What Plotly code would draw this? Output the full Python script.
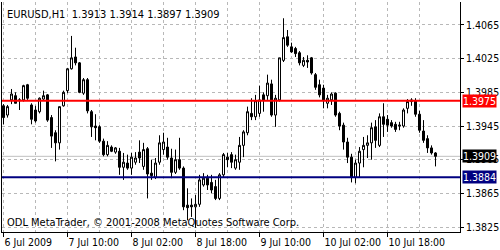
import pandas as pd
import plotly.graph_objects as go

# ---------------- data ----------------
symbol = "EURUSD,H1"
first_bar = "2009-07-06 18:00"

open_ = [1.3969, 1.3958, 1.3976, 1.3981, 1.3975, 1.3976, 1.3994, 1.3970, 1.3964, 1.3962,
         1.3977, 1.3982, 1.3955, 1.3937, 1.3925, 1.3969, 1.3987, 1.4013, 1.4027, 1.4020,
         1.3984, 1.4000, 1.3962, 1.3945, 1.3944, 1.3927, 1.3911, 1.3920, 1.3914, 1.3915,
         1.3896, 1.3901, 1.3895, 1.3902, 1.3914, 1.3897, 1.3918, 1.3889, 1.3884, 1.3902,
         1.3917, 1.3920, 1.3907, 1.3890, 1.3905, 1.3895, 1.3851, 1.3851, 1.3849, 1.3852,
         1.3875, 1.3883, 1.3878, 1.3873, 1.3859, 1.3887, 1.3908, 1.3911, 1.3895, 1.3902,
         1.3922, 1.3937, 1.3960, 1.3956, 1.3960, 1.3982, 1.3981, 1.3995, 1.3958, 1.3976,
         1.4023, 1.4051, 1.4039, 1.4037, 1.4032, 1.4017, 1.4023, 1.4026, 1.4006, 1.3994,
         1.3990, 1.3972, 1.3976, 1.3984, 1.3960, 1.3946, 1.3926, 1.3908, 1.3884, 1.3901,
         1.3917, 1.3922, 1.3925, 1.3944, 1.3922, 1.3956, 1.3953, 1.3949, 1.3947, 1.3945,
         1.3945, 1.3966, 1.3974, 1.3975, 1.3959, 1.3939, 1.3930, 1.3919, 1.3913]
high = [1.3971, 1.3970, 1.3989, 1.3985, 1.3978, 1.3994, 1.3995, 1.3972, 1.3969, 1.3979,
        1.3987, 1.3983, 1.3958, 1.3940, 1.3968, 1.3987, 1.4014, 1.4052, 1.4038, 1.4021,
        1.4002, 1.4002, 1.3964, 1.3959, 1.3946, 1.3930, 1.3927, 1.3922, 1.3920, 1.3919,
        1.3913, 1.3911, 1.3913, 1.3914, 1.3928, 1.3925, 1.3920, 1.3905, 1.3907, 1.3934,
        1.3937, 1.3931, 1.3918, 1.3917, 1.3931, 1.3897, 1.3871, 1.3859, 1.3863, 1.3887,
        1.3889, 1.3887, 1.3887, 1.3881, 1.3889, 1.3913, 1.3913, 1.3914, 1.3911, 1.3932,
        1.3940, 1.3968, 1.3978, 1.3982, 1.3993, 1.3985, 1.4006, 1.4000, 1.3982, 1.4026,
        1.4073, 1.4059, 1.4044, 1.4039, 1.4034, 1.4027, 1.4029, 1.4027, 1.4008, 1.4000,
        1.3994, 1.3982, 1.3985, 1.3985, 1.3962, 1.3949, 1.3931, 1.3912, 1.3905, 1.3920,
        1.3932, 1.3934, 1.3949, 1.3952, 1.3960, 1.3972, 1.3958, 1.3952, 1.3950, 1.3950,
        1.3966, 1.3977, 1.3978, 1.3978, 1.3963, 1.3952, 1.3934, 1.3922, 1.3914]
low = [1.3947, 1.3955, 1.3971, 1.3972, 1.3964, 1.3974, 1.3976, 1.3947, 1.3949, 1.3960,
       1.3976, 1.3950, 1.3919, 1.3903, 1.3917, 1.3968, 1.3984, 1.4012, 1.4017, 1.3984,
       1.3982, 1.3960, 1.3932, 1.3928, 1.3925, 1.3909, 1.3909, 1.3914, 1.3912, 1.3887,
       1.3881, 1.3893, 1.3887, 1.3899, 1.3901, 1.3893, 1.3859, 1.3881, 1.3882, 1.3899,
       1.3911, 1.3905, 1.3883, 1.3888, 1.3893, 1.3845, 1.3833, 1.3837, 1.3824, 1.3849,
       1.3873, 1.3869, 1.3865, 1.3857, 1.3857, 1.3884, 1.3896, 1.3895, 1.3893, 1.3893,
       1.3908, 1.3934, 1.3952, 1.3952, 1.3956, 1.3962, 1.3976, 1.3956, 1.3944, 1.3974,
       1.4021, 1.4039, 1.4032, 1.4027, 1.4017, 1.4015, 1.4014, 1.4006, 1.3988, 1.3979,
       1.3966, 1.3966, 1.3970, 1.3956, 1.3940, 1.3917, 1.3901, 1.3878, 1.3877, 1.3884,
       1.3896, 1.3907, 1.3905, 1.3919, 1.3920, 1.3932, 1.3938, 1.3943, 1.3938, 1.3940,
       1.3943, 1.3960, 1.3969, 1.3956, 1.3937, 1.3925, 1.3913, 1.3911, 1.3897]
close = [1.3955, 1.3968, 1.3983, 1.3972, 1.3976, 1.3993, 1.3978, 1.3953, 1.3951, 1.3978,
         1.3981, 1.3952, 1.3933, 1.3925, 1.3968, 1.3985, 1.4013, 1.4026, 1.4020, 1.3985,
         1.4000, 1.3963, 1.3944, 1.3943, 1.3927, 1.3911, 1.3922, 1.3915, 1.3919, 1.3896,
         1.3902, 1.3895, 1.3908, 1.3907, 1.3907, 1.3917, 1.3888, 1.3886, 1.3901, 1.3925,
         1.3926, 1.3908, 1.3890, 1.3905, 1.3895, 1.3849, 1.3848, 1.3849, 1.3852, 1.3881,
         1.3883, 1.3875, 1.3869, 1.3859, 1.3887, 1.3911, 1.3905, 1.3902, 1.3905, 1.3922,
         1.3938, 1.3962, 1.3956, 1.3975, 1.3976, 1.3976, 1.3996, 1.3958, 1.3978, 1.4026,
         1.4050, 1.4041, 1.4033, 1.4031, 1.4020, 1.4023, 1.4021, 1.4008, 1.3991, 1.3982,
         1.3976, 1.3978, 1.3983, 1.3958, 1.3945, 1.3926, 1.3908, 1.3884, 1.3901, 1.3915,
         1.3922, 1.3925, 1.3943, 1.3928, 1.3956, 1.3947, 1.3946, 1.3945, 1.3941, 1.3946,
         1.3964, 1.3974, 1.3976, 1.3959, 1.3940, 1.3928, 1.3919, 1.3913, 1.3909]

label_times = ["2009-07-06 18:00", "2009-07-07 10:00", "2009-07-08 02:00", "2009-07-08 18:00",
               "2009-07-09 10:00", "2009-07-10 02:00", "2009-07-10 18:00"]
tick_labels = ["6 Jul 2009", "7 Jul 10:00", "8 Jul 02:00", "8 Jul 18:00",
               "9 Jul 10:00", "10 Jul 02:00", "10 Jul 18:00"]
grid_times = ["2009-07-07 02:00", "2009-07-07 18:00", "2009-07-08 10:00", "2009-07-09 02:00",
              "2009-07-09 18:00", "2009-07-10 10:00", "2009-07-11 02:00"]
price_ticks = [1.4065, 1.4025, 1.3985, 1.3945, 1.3905, 1.3865, 1.3825]
resistance = 1.3975
support = 1.3884
copyright_text = "ODL MetaTrader, \u00a9 2001-2008 MetaQuotes Software Corp."

# ---------------- figure ----------------
FONT = "Liberation Sans Narrow, DejaVu Sans Condensed, Arial Narrow, sans-serif"
times = pd.date_range(first_bar, periods=len(close), freq="h")
bid = close[-1]

W, H = 500, 250
ML, MR, MT, MB = 2, 40, 2, 18
px_per_bar = 4
plot_w = W - ML - MR
x_start = times[0] - pd.Timedelta(hours=0.375)
x_end = x_start + pd.Timedelta(hours=plot_w / px_per_bar)

fig = go.Figure()
fig.add_trace(go.Candlestick(
    x=times, open=open_, high=high, low=low, close=close,
    increasing=dict(line=dict(color="black", width=1), fillcolor="white"),
    decreasing=dict(line=dict(color="black", width=1), fillcolor="black"),
    whiskerwidth=0, hoverinfo="skip", showlegend=False,
))

grid_col = "#b8b8b8"
fig.update_xaxes(
    type="date", range=[x_start, x_end], rangeslider_visible=False,
    tickmode="array", tickvals=pd.to_datetime(label_times), ticktext=tick_labels,
    ticklabelposition="outside right", tickangle=0, automargin=False,
    ticks="outside", ticklen=4, tickcolor="black", tickwidth=1,
    showgrid=True, gridcolor=grid_col, griddash="3px,3px", gridwidth=1,
    minor=dict(tickmode="array", tickvals=pd.to_datetime(grid_times), showgrid=True,
               gridcolor=grid_col, griddash="3px,3px", ticks=""),
    showline=True, linecolor="black", linewidth=1,
    tickfont=dict(family=FONT, size=10.5, color="black"),
    zeroline=False, fixedrange=True,
)
fig.update_yaxes(
    side="right", range=[1.38191, 1.40923], automargin=False,
    tickmode="array", tickvals=price_ticks, ticktext=[f"{v:.4f}" for v in price_ticks],
    ticks="outside", ticklen=3, tickcolor="black",
    showgrid=True, gridcolor=grid_col, griddash="3px,3px", gridwidth=1,
    showline=True, mirror=True, linecolor="black", linewidth=1,
    tickfont=dict(family=FONT, size=10.5, color="black"),
    zeroline=False, fixedrange=True,
)

# horizontal levels
fig.add_shape(type="line", xref="paper", x0=0, x1=1, yref="y", y0=bid, y1=bid,
              line=dict(color="#c0c0c0", width=1), layer="below")
fig.add_shape(type="line", xref="paper", x0=0, x1=1, yref="y", y0=resistance, y1=resistance,
              line=dict(color="#ff0000", width=2), layer="above")
fig.add_shape(type="line", xref="paper", x0=0, x1=1, yref="y", y0=support, y1=support,
              line=dict(color="#000080", width=2), layer="above")

# price boxes on the right scale
for lvl, col in [(resistance, "#ff0000"), (bid, "black"), (support, "#000080")]:
    fig.add_annotation(xref="paper", x=1, xanchor="left", xshift=2, yref="y", y=lvl,
                       yanchor="middle", text=f"{lvl:.4f}", showarrow=False,
                       bgcolor=col, width=33, height=12, borderpad=0, align="center",
                       font=dict(family=FONT, size=10.5, color="white"))

header = f"{symbol}  {open_[-1]:.4f} {high[-1]:.4f} {low[-1]:.4f} {close[-1]:.4f}"
fig.add_annotation(xref="paper", x=0, xanchor="left", xshift=3, yref="paper", y=1,
                   yanchor="top", yshift=-4, text=header, showarrow=False,
                   font=dict(family=FONT, size=11, color="black"))
fig.add_annotation(xref="paper", x=0, xanchor="left", xshift=3, yref="paper", y=0,
                   yanchor="bottom", yshift=1, text=copyright_text, showarrow=False,
                   font=dict(family=FONT, size=11, color="black"))

fig.update_layout(
    width=W, height=H, margin=dict(l=ML, r=MR, t=MT, b=MB, pad=0),
    paper_bgcolor="white", plot_bgcolor="white", showlegend=False,
    boxgap=0.5, boxgroupgap=0, hovermode=False,
)

fig.write_html("out.html", config={"displayModeBar": False})
